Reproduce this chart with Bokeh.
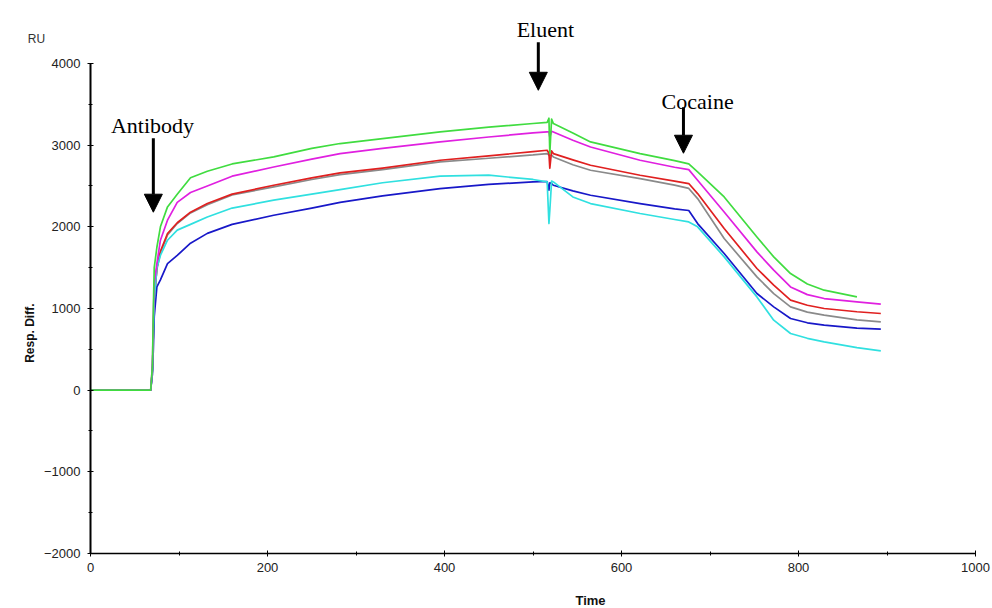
import math
from bokeh.plotting import figure
from bokeh.models import (Range1d, SingleIntervalTicker, Label, Arrow, NormalHead,
                          ColumnDataSource)
from bokeh.embed import file_html
from bokeh.resources import INLINE

NaN = float("nan")

time = [0, 68, 70, 71, 72, 75, 79, 87, 98, 113, 132, 160, 207, 250, 282, 330, 395, 450,
        500, 516, 518, 519, 521, 523, 545, 565, 621, 660, 676, 686, 716, 753, 772, 791,
        810, 829, 866, 893]

green = [0, 0, 300, 1000, 1500, 1750, 2000, 2244, 2400, 2600, 2680, 2770, 2856, 2960,
         3020, 3080, 3162, 3220, 3265, 3280, 3330, 2900, 3320, 3264, 3150, 3040, 2897,
         2810, 2770, 2672, 2366, 1876, 1632, 1428, 1300, 1224, 1142, NaN]
magenta = [0, 0, 300, 900, 1300, 1550, 1836, 2081, 2300, 2420, 2500, 2620, 2733, 2830,
           2897, 2960, 3040, 3100, 3150, 3162, 3162, 3100, 3170, 3162, 3060, 2978, 2815,
           2730, 2700, 2570, 2182, 1693, 1469, 1264, 1170, 1122, 1081, 1053]
red = [0, 0, 250, 700, 1100, 1500, 1700, 1918, 2050, 2180, 2286, 2400, 2509, 2600, 2660,
       2720, 2815, 2870, 2920, 2938, 2900, 2717, 2930, 2897, 2820, 2754, 2632, 2560, 2530,
       2407, 1979, 1490, 1285, 1102, 1040, 1000, 960, 939]
gray = [0, 0, 250, 700, 1100, 1480, 1680, 1900, 2040, 2170, 2270, 2390, 2490, 2580, 2640,
        2700, 2795, 2840, 2880, 2897, 2880, 2870, 2880, 2856, 2760, 2693, 2591, 2510, 2470,
        2346, 1857, 1387, 1183, 1020, 955, 918, 860, 836]
cyan = [0, 0, 250, 700, 1100, 1500, 1650, 1836, 1960, 2030, 2121, 2230, 2326, 2400, 2456,
        2540, 2620, 2632, 2580, 2550, 2040, 2200, 2560, 2550, 2366, 2285, 2163, 2090, 2060,
        2000, 1632, 1142, 857, 694, 635, 592, 520, 481]
blue = [0, 0, 200, 500, 900, 1264, 1350, 1550, 1650, 1800, 1920, 2030, 2142, 2230, 2300,
        2380, 2468, 2520, 2550, 2555, 2450, 2540, 2530, 2509, 2440, 2387, 2285, 2220, 2200,
        2040, 1673, 1184, 1020, 878, 825, 796, 760, 747]

series = [
    (gray, "#8a8a8a"),
    (red, "#e02020"),
    (blue, "#1818c8"),
    (cyan, "#30e0e0"),
    (magenta, "#e020e0"),
    (green, "#40dc40"),
]

X_MIN, X_MAX = 0, 1000
Y_MIN, Y_MAX = -2000, 4000

# the frame fills the whole page; the axes sit at fixed data positions
p = figure(width=992, height=608, output_backend="svg", toolbar_location=None,
           x_range=Range1d(-101.7, 1019.2), y_range=Range1d(-2673.5, 4771.4),
           min_border_left=0, min_border_right=0, min_border_top=0,
           min_border_bottom=0)
p.outline_line_color = None
p.xgrid.visible = False
p.ygrid.visible = False
p.background_fill_color = "white"
p.border_fill_color = "white"

for ys, col in series:
    src = ColumnDataSource(dict(t=time, v=ys))
    p.line("t", "v", source=src, line_color=col, line_width=1.7,
           line_join="round")

p.xaxis.ticker = SingleIntervalTicker(interval=200, num_minor_ticks=2)
p.yaxis.ticker = SingleIntervalTicker(interval=1000, num_minor_ticks=2)
p.xaxis.fixed_location = Y_MIN
p.yaxis.fixed_location = X_MIN
p.xaxis.bounds = (X_MIN, X_MAX)
p.yaxis.bounds = (Y_MIN, Y_MAX)
for ax in (p.xaxis[0], p.yaxis[0]):
    ax.axis_line_color = "black"
    ax.major_tick_line_color = "black"
    ax.minor_tick_line_color = "black"
    ax.major_tick_in = 3
    ax.major_tick_out = 3
    ax.minor_tick_in = 2
    ax.minor_tick_out = 2
    ax.major_label_text_font = "Liberation Sans"
    ax.major_label_text_font_size = "13px"
    ax.major_label_text_color = "#222222"
p.yaxis.axis_line_width = 2
p.xaxis.axis_line_width = 1.5
p.yaxis.major_label_standoff = 7
p.xaxis.major_label_standoff = 7

# axis titles and unit
p.add_layout(Label(x=565, y=-2571, text="Time", text_font="Liberation Sans",
                   text_font_style="bold", text_font_size="13px", text_align="center",
                   text_baseline="middle", text_color="#111111"))
p.add_layout(Label(x=-68, y=698, text="Resp. Diff.", angle=math.pi / 2,
                   text_font="Liberation Sans", text_font_style="bold",
                   text_font_size="12px", text_align="center", text_baseline="middle",
                   text_color="#111111"))
p.add_layout(Label(x=-61, y=4298, text="RU", text_font="Liberation Sans",
                   text_font_size="12px", text_align="center", text_baseline="middle",
                   text_color="#333333"))

# annotations
notes = [
    ("Antibody", 70, 3244, 71, 3084, 2179),
    ("Eluent", 514, 4419, 506, 4260, 3672),
    ("Cocaine", 686, 3537, 670, 3464, 2901),
]
for txt, tx, ty, ax_, y0, y1 in notes:
    p.add_layout(Label(x=tx, y=ty, text=txt, text_font="Liberation Serif",
                       text_font_size="22px", text_align="center",
                       text_baseline="alphabetic", text_color="black"))
    p.add_layout(Arrow(x_start=ax_, y_start=y0, x_end=ax_, y_end=y1,
                       line_width=3, line_color="black",
                       end=NormalHead(size=18, fill_color="black", line_color="black")))

open("out.html", "w").write(file_html(p, INLINE))
